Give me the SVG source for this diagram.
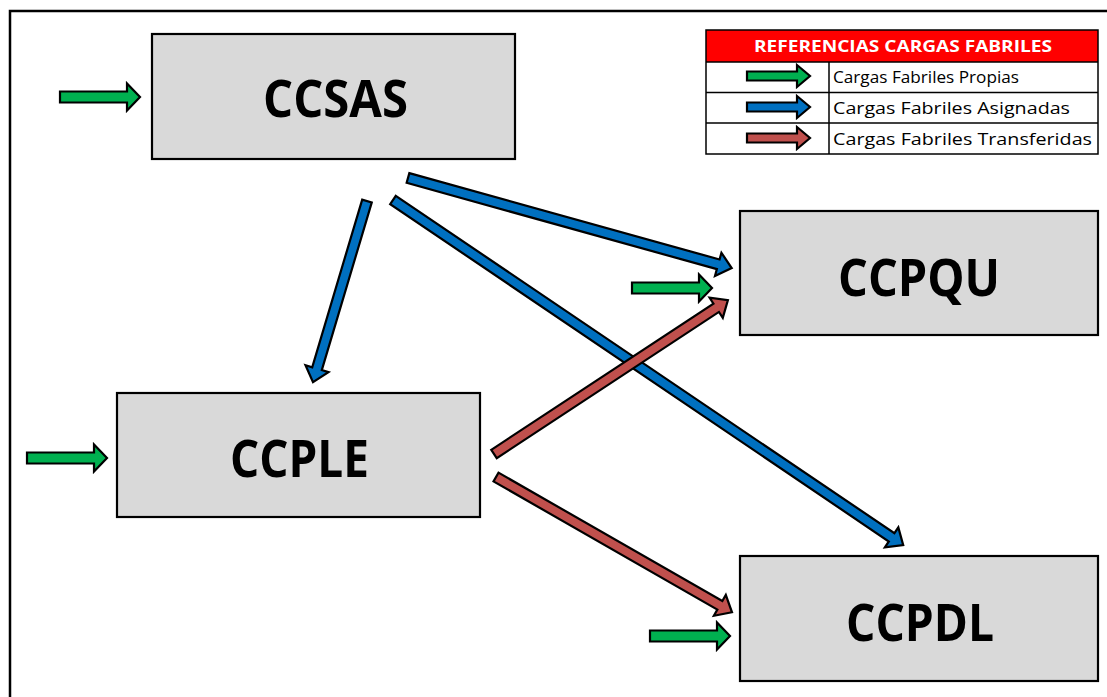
<svg xmlns="http://www.w3.org/2000/svg" width="1107" height="697" viewBox="0 0 1107 697">
<style>
.node rect{fill:#D9D9D9;stroke:#000;stroke-width:2.2}
.node text{font-family:"Open Sans","Liberation Sans",Arial,sans-serif;font-weight:bold;font-size:52px;fill:#000;text-anchor:middle}
.arr{stroke:#000;stroke-width:2.2;stroke-linejoin:miter}
.g{fill:#00B050}.b{fill:#0070C0}.r{fill:#C0504D}
.lg text{font-family:"Open Sans","Liberation Sans",Arial,sans-serif;font-size:17px;fill:#000}
.lg .hd{font-weight:bold;fill:#fff;text-anchor:middle;font-size:16px}
.lg line,.lg rect.cell{stroke:#000;stroke-width:1.5;fill:none}
</style>
<defs>
<path id="ga" d="M0,-5.5 H67 V-13.5 L80,0 L67,13.5 V5.5 H0 Z"/>
<path id="la" d="M0,-4.5 H50 V-11 L63,0 L50,11 V4.5 H0 Z"/>
</defs>
<rect x="10" y="11" width="1120" height="720" fill="#fff" stroke="#000" stroke-width="2.5"/>
<g id="legend" class="lg">
<rect x="706" y="30" width="392" height="32" fill="#FF0000"/>
<rect class="cell" x="706" y="30" width="392" height="124" stroke-width="2"/>
<line x1="706" y1="62" x2="1098" y2="62"/>
<line x1="706" y1="92.5" x2="1098" y2="92.5"/>
<line x1="706" y1="123" x2="1098" y2="123"/>
<line x1="829" y1="62" x2="829" y2="154"/>
<text class="hd" x="903" y="52" textLength="298" lengthAdjust="spacingAndGlyphs">REFERENCIAS CARGAS FABRILES</text>
<use href="#la" class="arr g" x="747" y="76"/>
<use href="#la" class="arr b" x="747" y="107"/>
<use href="#la" class="arr r" x="747" y="138"/>
<text x="833" y="83" textLength="186" lengthAdjust="spacingAndGlyphs">Cargas Fabriles Propias</text>
<text x="833" y="114" textLength="237" lengthAdjust="spacingAndGlyphs">Cargas Fabriles Asignadas</text>
<text x="833" y="145" textLength="259" lengthAdjust="spacingAndGlyphs">Cargas Fabriles Transferidas</text>
</g>
<g id="node-ccsas" class="node">
<rect x="152" y="34" width="363" height="125"/>
<text x="335.5" y="117" textLength="145" lengthAdjust="spacingAndGlyphs">CCSAS</text>
</g>
<g id="node-ccpqu" class="node">
<rect x="740" y="211" width="358" height="124"/>
<text x="919" y="296" textLength="162" lengthAdjust="spacingAndGlyphs">CCPQU</text>
</g>
<g id="node-ccple" class="node">
<rect x="117" y="393" width="363" height="124"/>
<text x="299.5" y="477" textLength="139" lengthAdjust="spacingAndGlyphs">CCPLE</text>
</g>
<g id="node-ccpdl" class="node">
<rect x="740" y="556" width="358" height="125"/>
<text x="920" y="641" textLength="148" lengthAdjust="spacingAndGlyphs">CCPDL</text>
</g>
<g id="connectors">
<use href="#ga" class="arr g" x="60" y="97"/>
<use href="#ga" class="arr g" x="632" y="288"/>
<use href="#ga" class="arr g" x="27" y="458"/>
<use href="#ga" class="arr g" x="650" y="636"/>
<path class="arr b" transform="translate(367,201) rotate(106.6)" d="M0,-5 H175 V-12 L189,0 L175,12 V5 H0 Z"/>
<path class="arr b" transform="translate(408,178) rotate(15.55)" d="M0,-5 H322 V-12 L336,0 L322,12 V5 H0 Z"/>
<path class="arr b" transform="translate(393,200) rotate(34.08)" d="M0,-5 H602 V-12 L616,0 L602,12 V5 H0 Z"/>
<path class="arr r" transform="translate(494,454) rotate(-33.35)" d="M0,-5 H266 V-12 L280,0 L266,12 V5 H0 Z"/>
<path class="arr r" transform="translate(496,477) rotate(29.82)" d="M0,-5 H258 V-12 L272,0 L258,12 V5 H0 Z"/>
</g>
</svg>
